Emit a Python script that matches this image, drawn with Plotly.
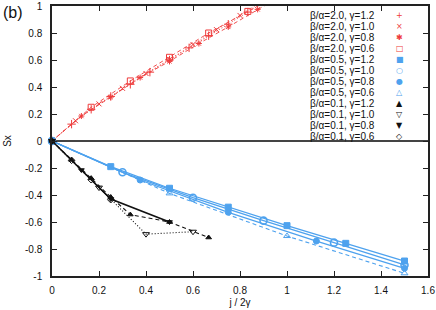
import plotly.graph_objects as go

# ---------------- data ----------------
# beta/alpha = 2.0 (red)
x_r12 = [0, 0.0833, 0.1667, 0.25, 0.3333, 0.4167, 0.5, 0.5833, 0.6667, 0.75, 0.8333, 0.9167, 1.0]
y_r12 = [0, 0.125, 0.235, 0.33, 0.42, 0.51, 0.60, 0.69, 0.78, 0.865, 0.955, 1.04, 1.13]
x_r10 = [0, 0.1, 0.2, 0.3, 0.4, 0.5, 0.6, 0.7, 0.8, 0.9, 1.0]
y_r10 = [0, 0.15, 0.275, 0.39, 0.50, 0.605, 0.715, 0.825, 0.93, 1.04, 1.15]
x_r08 = [0, 0.125, 0.25, 0.375, 0.5, 0.625, 0.75, 0.875, 1.0]
y_r08 = [0, 0.185, 0.325, 0.47, 0.59, 0.722, 0.845, 0.975, 1.1]
x_r06 = [0, 0.1667, 0.3333, 0.5, 0.6667, 0.8333, 1.0]
y_r06 = [0, 0.25, 0.445, 0.62, 0.80, 0.96, 1.12]

# beta/alpha = 0.5 (blue)
x_b12 = [0, 0.25, 0.5, 0.75, 1.0, 1.25, 1.5]
y_b12 = [0, -0.19, -0.35, -0.49, -0.627, -0.758, -0.889]
x_b10 = [0, 0.3, 0.6, 0.9, 1.2, 1.5]
y_b10 = [0, -0.232, -0.42, -0.59, -0.753, -0.918]
x_b08 = [0, 0.375, 0.75, 1.125, 1.5]
y_b08 = [0, -0.289, -0.528, -0.741, -0.943]
x_b06 = [0, 0.5, 1.0, 1.5]
y_b06 = [0, -0.388, -0.704, -0.98]

# beta/alpha = 0.1 (black)
x_k12 = [0, 0.0833, 0.1667, 0.25, 0.3333, 0.5, 0.6667]
y_k12 = [0, -0.14, -0.275, -0.415, -0.545, -0.60, -0.715]
x_k10 = [0, 0.2, 0.4, 0.6]
y_k10 = [0, -0.345, -0.69, -0.672]
x_k08 = [0, 0.125, 0.25, 0.5]
y_k08 = [0, -0.215, -0.43, -0.60]
x_k06 = [0, 0.0833, 0.1667, 0.25]
y_k06 = [0, -0.143, -0.287, -0.435]

x_ticks = [0, 0.2, 0.4, 0.6, 0.8, 1.0, 1.2, 1.4, 1.6]
x_ticklabels = ["0", "0.2", "0.4", "0.6", "0.8", "1", "1.2", "1.4", "1.6"]
y_ticks = [-1, -0.8, -0.6, -0.4, -0.2, 0, 0.2, 0.4, 0.6, 0.8, 1]
y_ticklabels = ["-1", "-0.8", "-0.6", "-0.4", "-0.2", "0", "0.2", "0.4", "0.6", "0.8", "1"]

labels = ["β/α=2.0, γ=1.2", "β/α=2.0, γ=1.0", "β/α=2.0, γ=0.8", "β/α=2.0, γ=0.6",
          "β/α=0.5, γ=1.2", "β/α=0.5, γ=1.0", "β/α=0.5, γ=0.8", "β/α=0.5, γ=0.6",
          "β/α=0.1, γ=1.2", "β/α=0.1, γ=1.0", "β/α=0.1, γ=0.8", "β/α=0.1, γ=0.6"]

RED = "#ee3b3b"
BLUE = "#4ea2ee"
BLACK = "#111111"
DOT = "1px,2px"
DASH = "4px,3px"

series = [
    (x_r12, y_r12, RED, DOT, "cross-thin", 6, 0.9, "+", True),
    (x_r10, y_r10, RED, DOT, "x-thin", 5, 0.9, "×", True),
    (x_r08, y_r08, RED, DASH, "asterisk", 5, 0.9, "✱", True),
    (x_r06, y_r06, RED, DASH, "square-open", 6, 0.9, "□", True),
    (x_b12, y_b12, BLUE, "solid", "square", 6, 1.3, "■", False),
    (x_b10, y_b10, BLUE, "solid", "circle-open", 7, 1.3, "○", False),
    (x_b08, y_b08, BLUE, "solid", "circle", 6, 1.3, "●", False),
    (x_b06, y_b06, BLUE, DASH, "triangle-up-open", 6, 1.1, "△", False),
    (x_k12, y_k12, BLACK, DASH, "triangle-up", 5, 1.1, "▲", False),
    (x_k10, y_k10, BLACK, DOT, "triangle-down-open", 6, 1.1, "▽", False),
    (x_k08, y_k08, BLACK, "solid", "triangle-down", 5, 1.6, "▼", False),
    (x_k06, y_k06, BLACK, "solid", "diamond-open", 5, 1.0, "◇", False),
]

fig = go.Figure()
for (xs, ys, col, dash, sym, msize, lw, glyph, clip), lab in zip(series, labels):
    fig.add_trace(go.Scatter(
        x=xs, y=ys, mode="lines+markers", name=lab,
        line=dict(color=col, width=lw, dash=dash),
        marker=dict(symbol=sym + ("-open" if sym == "asterisk" else ""), size=msize,
                    color=col,
                    line=dict(color=col, width=1.6 if sym == "circle-open" else 1)),
        cliponaxis=clip,
    ))

# legend drawn gnuplot-style: right-aligned text followed by its symbol
PLOT_TOP, PLOT_H = 6, 270
for i, (lab, s) in enumerate(zip(labels, series)):
    ypx = 15.5 + 11.0 * i
    yp = 1 - (ypx - PLOT_TOP) / PLOT_H
    fig.add_annotation(xref="paper", yref="paper", x=0.864, y=yp, text=lab,
                       showarrow=False, xanchor="right", yanchor="middle",
                       font=dict(family="Liberation Sans", size=10, color="#111"))
    fig.add_annotation(xref="paper", yref="paper", x=0.9255, y=yp, text=s[7],
                       showarrow=False, xanchor="center", yanchor="middle",
                       font=dict(family="DejaVu Sans", size=8, color=s[2]))

fig.add_annotation(xref="paper", yref="paper", x=-0.135, y=0.975, text="(b)",
                   showarrow=False, xanchor="left", yanchor="middle",
                   font=dict(family="Liberation Sans", size=16, color="#111"))

axis_common = dict(showgrid=False, ticks="inside", ticklen=5, tickwidth=1,
                   tickcolor="#222", showline=True, linecolor="#222", linewidth=1.5,
                   mirror="ticks", automargin=False,
                   tickfont=dict(family="Liberation Sans", size=10, color="#111"))

fig.update_layout(
    width=436, height=310,
    margin=dict(l=52, r=8, t=6, b=34),
    paper_bgcolor="white", plot_bgcolor="white",
    showlegend=False,
    xaxis=dict(range=[0, 1.6], tickmode="array", tickvals=x_ticks, ticktext=x_ticklabels,
               zeroline=False, ticklabelstandoff=4,
               title=dict(text="j / 2γ", standoff=4,
                          font=dict(family="Liberation Sans", size=10, color="#111")),
               **axis_common),
    yaxis=dict(range=[-1, 1], tickmode="array", tickvals=y_ticks, ticktext=y_ticklabels,
               zeroline=True, zerolinecolor="#444", zerolinewidth=1.5, ticklabelstandoff=6,
               title=dict(text="Sx", standoff=12,
                          font=dict(family="Liberation Sans", size=10, color="#111")),
               **axis_common),
)

fig.write_html("out.html", config={"displayModeBar": False},
               post_script="document.body.style.margin='0';document.body.style.overflow='hidden';")
